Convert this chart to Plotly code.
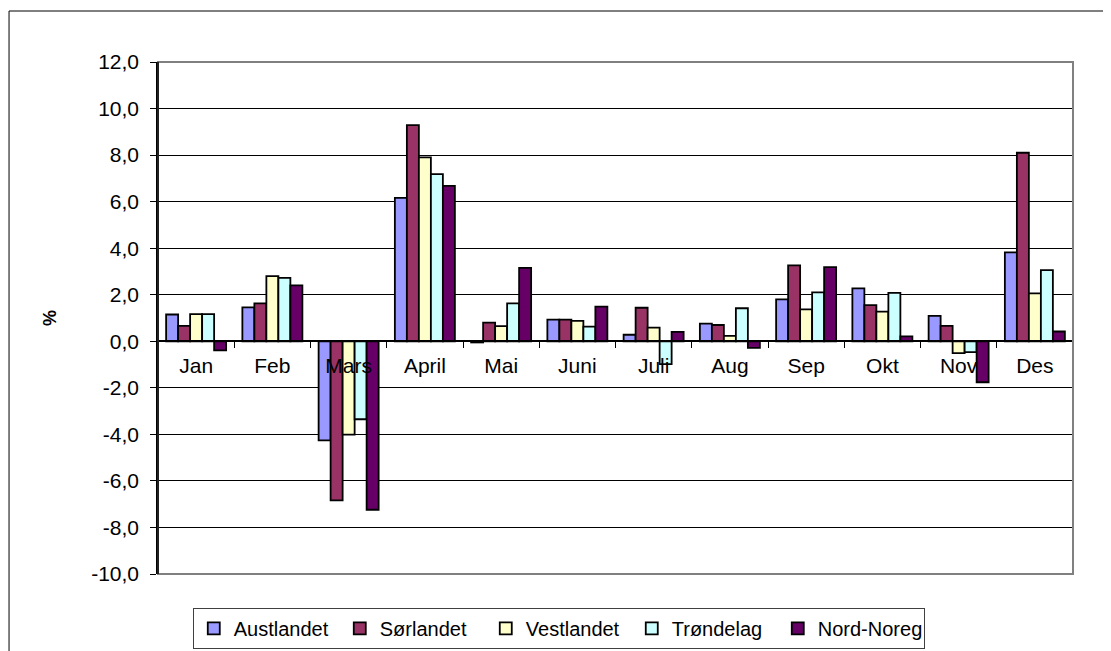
import plotly.graph_objects as go

months = ["Jan", "Feb", "Mars", "April", "Mai", "Juni", "Juli", "Aug", "Sep", "Okt", "Nov", "Des"]
austlandet = [1.15, 1.46, -4.26, 6.16, -0.05, 0.93, 0.28, 0.76, 1.80, 2.27, 1.09, 3.82]
sorlandet = [0.66, 1.63, -6.84, 9.29, 0.80, 0.93, 1.44, 0.70, 3.26, 1.55, 0.66, 8.10]
vestlandet = [1.17, 2.80, -4.01, 7.90, 0.65, 0.88, 0.59, 0.23, 1.37, 1.27, -0.51, 2.06]
trondelag = [1.17, 2.72, -3.35, 7.18, 1.63, 0.63, -0.98, 1.42, 2.10, 2.08, -0.47, 3.06]
nord_noreg = [-0.39, 2.40, -7.24, 6.68, 3.15, 1.49, 0.40, -0.28, 3.19, 0.21, -1.76, 0.42]

y_tickvals = [-10, -8, -6, -4, -2, 0, 2, 4, 6, 8, 10, 12]
y_ticktext = ["-10,0", "-8,0", "-6,0", "-4,0", "-2,0", "0,0", "2,0", "4,0", "6,0", "8,0", "10,0", "12,0"]

series = [
    ("Austlandet", austlandet, "#9999FF"),
    ("Sørlandet", sorlandet, "#993366"),
    ("Vestlandet", vestlandet, "#FFFFCC"),
    ("Trøndelag", trondelag, "#CCFFFF"),
    ("Nord-Noreg", nord_noreg, "#660066"),
]

fig = go.Figure()
for name, vals, col in series:
    fig.add_trace(go.Bar(
        x=months, y=vals, name=name,
        marker=dict(color=col, line=dict(color="black", width=1.8)),
    ))

font = "Arial, Liberation Sans, sans-serif"
fig.update_layout(
    width=1103, height=662,
    margin=dict(l=150, r=38, t=54, b=96),
    paper_bgcolor="white", plot_bgcolor="white",
    barmode="group", bargap=0.213, bargroupgap=0,
    font=dict(family=font, size=20, color="black"),
    showlegend=True,
    legend=dict(
        orientation="h", x=0.038, xanchor="left", y=-0.066, yanchor="top",
        bordercolor="#404040", borderwidth=1, bgcolor="white",
        font=dict(family=font, size=20, color="black"),
        traceorder="normal", entrywidth=101,
    ),
    xaxis=dict(
        type="category", anchor="free", position=10 / 22,
        showline=True, linecolor="black", linewidth=1.5,
        ticks="outside", ticklen=6, tickcolor="black", tickson="boundaries",
        showgrid=False, zeroline=False,
        tickfont=dict(family=font, size=21, color="black"),
        ticklabelstandoff=6,
    ),
    yaxis=dict(
        range=[-10, 12], tickvals=y_tickvals, ticktext=y_ticktext,
        showline=True, linecolor="black", linewidth=1.5,
        ticks="outside", ticklen=6, tickcolor="black",
        showgrid=True, gridcolor="black", gridwidth=1, zeroline=False,
        tickfont=dict(family=font, size=21, color="black"),
        ticklabelstandoff=7,
        title=dict(text="<b>%</b>", font=dict(family=font, size=18, color="black"), standoff=30),
    ),
    shapes=[
        dict(type="rect", xref="paper", yref="paper", x0=-0.1628, x1=1.06, y0=-0.2, y1=1.0996,
             line=dict(color="black", width=1), layer="below"),
        dict(type="rect", xref="paper", yref="paper", x0=0, x1=1, y0=0, y1=1,
             line=dict(color="#808080", width=2), layer="above"),
        dict(type="line", xref="paper", yref="paper", x0=0, x1=0, y0=0, y1=1,
             line=dict(color="black", width=1.5), layer="above"),
    ],
)

fig.write_html("out.html")
